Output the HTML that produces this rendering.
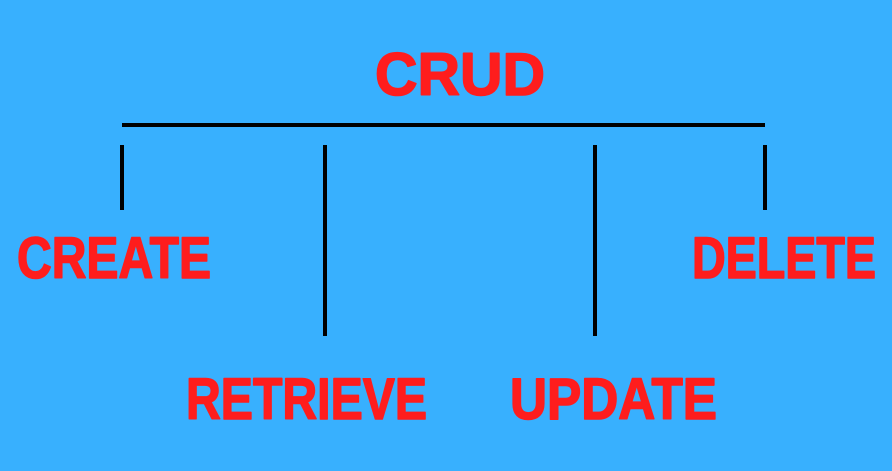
<!DOCTYPE html>
<html>
<head>
<meta charset="utf-8">
<style>
  html,body{margin:0;padding:0;background:#38b0fe;}
  svg{display:block;}
  text{font-family:"Liberation Sans",sans-serif;font-weight:bold;fill:#fe1d1d;stroke:#fe1d1d;stroke-width:1.6;stroke-linejoin:round;}
</style>
</head>
<body>
<svg width="892" height="471" viewBox="0 0 892 471">
  <rect x="0" y="0" width="892" height="471" fill="#38b0fe"/>
  <text x="375" y="95" font-size="60" textLength="170" lengthAdjust="spacingAndGlyphs">CRUD</text>
  <rect x="122" y="123" width="643" height="4" fill="#000"/>
  <rect x="120" y="145" width="4" height="65" fill="#000"/>
  <rect x="323" y="145" width="4" height="191" fill="#000"/>
  <rect x="593" y="145" width="4" height="191" fill="#000"/>
  <rect x="763" y="145" width="4" height="65" fill="#000"/>
  <text x="17" y="278" font-size="58" textLength="194" lengthAdjust="spacingAndGlyphs">CREATE</text>
  <text x="692" y="278" font-size="58" textLength="184" lengthAdjust="spacingAndGlyphs">DELETE</text>
  <text x="186" y="419" font-size="58" textLength="241" lengthAdjust="spacingAndGlyphs">RETRIEVE</text>
  <text x="510" y="419" font-size="58" textLength="207" lengthAdjust="spacingAndGlyphs">UPDATE</text>
</svg>
</body>
</html>
